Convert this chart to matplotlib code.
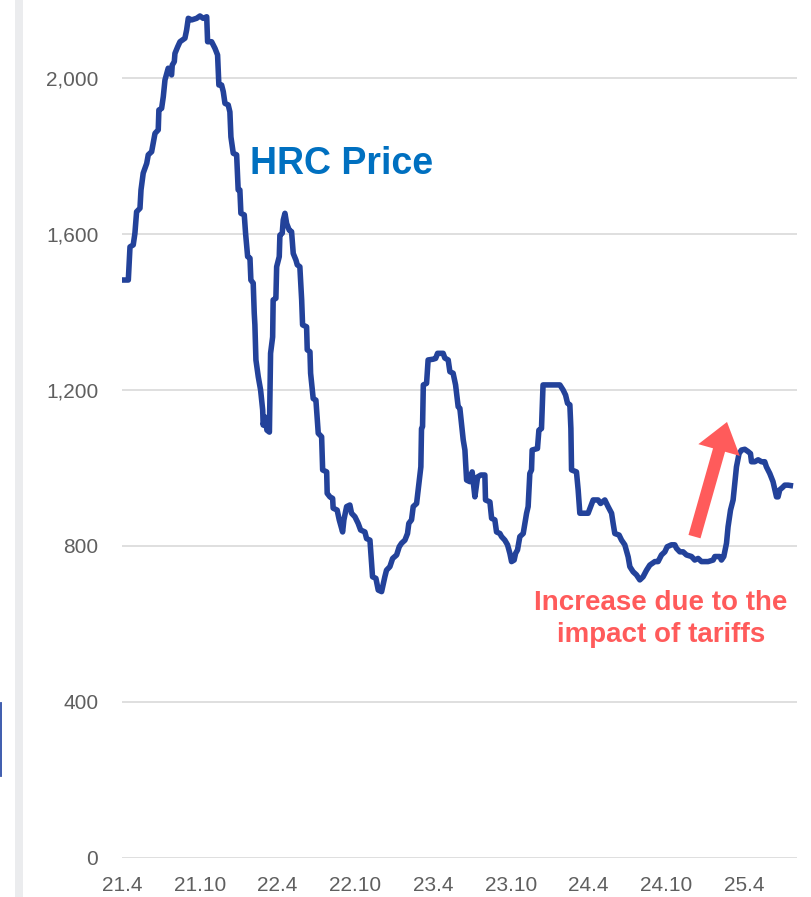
import numpy as np
import matplotlib.pyplot as plt
from matplotlib.patches import Rectangle
from matplotlib.lines import Line2D

plt.rcParams['font.family'] = ['Liberation Sans', 'DejaVu Sans']

# months elapsed since 2021-04 and HRC price
t_month = [0.00, 0.49, 0.62, 0.87, 1.00, 1.13, 1.39, 1.47, 1.64, 1.91, 2.03, 2.29,
           2.55, 2.80, 2.85, 3.06, 3.19, 3.32, 3.57, 3.83, 3.88, 4.04, 4.09, 4.30,
           4.48, 4.86, 4.99, 5.12, 5.38, 5.76, 6.02, 6.27, 6.54, 6.61, 6.92, 7.18,
           7.38, 7.48, 7.69, 7.82, 7.95, 8.20, 8.33, 8.41, 8.59, 8.85, 8.97, 9.10,
           9.18, 9.44, 9.54, 9.70, 9.88, 9.95, 10.13, 10.21, 10.26, 10.34, 10.52,
           10.70, 10.86, 10.90, 11.03, 11.19, 11.38, 11.47, 11.63, 11.67, 11.88,
           11.94, 12.14, 12.19, 12.37, 12.45, 12.58, 12.71, 12.91, 13.09, 13.22,
           13.43, 13.53, 13.73, 13.87, 13.94, 14.25, 14.30, 14.51, 14.56, 14.76,
           14.97, 15.15, 15.41, 15.49, 15.80, 15.84, 16.05, 16.26, 16.30, 16.61,
           16.77, 17.03, 17.13, 17.34, 17.59, 17.72, 17.98, 18.23, 18.42, 18.75,
           18.88, 19.14, 19.34, 19.60, 19.78, 20.04, 20.29, 20.42, 20.68, 20.89,
           21.20, 21.40, 21.58, 21.84, 22.04, 22.14, 22.35, 22.48, 22.74, 22.92,
           23.07, 23.12, 23.20, 23.26, 23.51, 23.63, 24.02, 24.21, 24.36, 24.79,
           24.92, 25.18, 25.31, 25.56, 25.75, 25.95, 26.08, 26.34, 26.47, 26.60,
           26.85, 27.03, 27.24, 27.45, 27.70, 28.01, 28.06, 28.40, 28.53, 28.78,
           28.91, 29.17, 29.30, 29.55, 29.76, 29.94, 30.07, 30.27, 30.38, 30.53,
           30.71, 30.97, 31.23, 31.35, 31.48, 31.61, 31.66, 32.07, 32.18, 32.38,
           32.50, 33.15, 33.80, 34.05, 34.24, 34.39, 34.57, 34.65, 34.70, 35.08,
           35.21, 35.34, 35.98, 36.37, 36.75, 36.94, 37.27, 37.52, 37.79, 37.91,
           38.04, 38.37, 38.56, 38.81, 39.07, 39.20, 39.45, 39.71, 39.97, 40.22,
           40.49, 40.74, 41.13, 41.38, 41.64, 41.90, 42.08, 42.41, 42.67, 42.80,
           43.06, 43.31, 43.57, 43.96, 44.21, 44.47, 44.73, 45.24, 45.63, 45.76,
           46.14, 46.27, 46.45, 46.66, 46.78, 46.97, 47.17, 47.30, 47.43, 47.63,
           47.82, 48.07, 48.33, 48.51, 48.59, 48.84, 49.10, 49.36, 49.61, 49.74,
           50.00, 50.25, 50.52, 50.64, 50.77, 50.98, 51.16, 51.41, 51.80]
hrc_price = [1482, 1482, 1567, 1572, 1602, 1657, 1666, 1713, 1756, 1781, 1803, 1811,
             1858, 1867, 1918, 1922, 1952, 1995, 2025, 2008, 2033, 2042, 2063, 2080,
             2093, 2102, 2123, 2153, 2149, 2153, 2159, 2153, 2157, 2093, 2093, 2076,
             2059, 1982, 1982, 1965, 1935, 1931, 1913, 1849, 1807, 1803, 1713, 1713,
             1653, 1649, 1602, 1542, 1538, 1482, 1474, 1397, 1367, 1277, 1234,
             1200, 1149, 1110, 1131, 1097, 1092, 1294, 1336, 1431, 1435,
             1516, 1542, 1597, 1602, 1636, 1653, 1627, 1610, 1606, 1550,
             1533, 1521, 1516, 1431, 1367, 1362, 1303, 1298, 1243, 1178,
             1174, 1089, 1080, 995, 990, 935, 926, 922, 897, 892,
             867, 836, 867, 901, 905, 884, 875, 858, 841, 836,
             819, 815, 721, 717, 687, 683, 721, 738, 747, 768,
             777, 798, 807, 815, 832, 858, 867, 901, 909, 961,
             1003, 1101, 1106, 1213, 1217, 1277, 1279, 1281, 1294, 1294,
             1282, 1277, 1247, 1243, 1213, 1157, 1153, 1072, 1046, 969,
             965, 990, 926, 977, 982, 982, 918, 913, 871, 867,
             836, 832, 824, 815, 803, 781, 760, 764, 781, 790,
             824, 832, 884, 901, 986, 995, 1046, 1050, 1097, 1101,
             1213, 1213, 1213, 1200, 1187, 1166, 1162, 1101, 995, 990,
             944, 884, 884, 918, 918, 909, 918, 901, 884, 858,
             832, 828, 815, 803, 772, 747, 734, 726, 713, 721,
             738, 751, 760, 760, 777, 785, 798, 803, 803, 794,
             785, 785, 777, 773, 764, 768, 760, 760, 764, 773,
             773, 764, 773, 807, 849, 892, 918, 961, 1003, 1037,
             1046, 1048, 1042, 1037, 1016, 1016, 1021, 1016, 1016, 1003,
             986, 965, 926, 926, 944, 950, 956, 956, 954]

tick_pos = [0, 6, 12, 18, 24, 30, 36, 42, 48]
tick_lab = ['21.4', '21.10', '22.4', '22.10', '23.4', '23.10', '24.4', '24.10', '25.4']
y_ticks = [0, 400, 800, 1200, 1600, 2000]

grey_txt = '#5F5F5F'
line_col = '#23429A'
red = '#FF5B5B'

fig = plt.figure(figsize=(8.12, 8.97), dpi=100, facecolor='w')
ax = fig.add_axes([0.1502, 0.0435, 0.8313, 0.9565])

ax.plot(t_month, hrc_price, color=line_col, lw=4.0, solid_joinstyle='round',
        solid_capstyle='butt', zorder=3)

ax.set_xlim(0, 52.1)
ax.set_ylim(0, 2200)
ax.set_yticks(y_ticks)
ax.set_yticklabels([f'{v:,}' for v in y_ticks])
ax.set_xticks(tick_pos)
ax.set_xticklabels(tick_lab)
ax.tick_params(axis='both', length=0, labelsize=15, colors=grey_txt)
ax.tick_params(axis='y', pad=17)
ax.tick_params(axis='x', pad=13)
ax.grid(axis='y', color='#D9D9D9', lw=1.2)
ax.set_axisbelow(True)
for s in ax.spines.values():
    s.set_visible(False)

ax.text(16.98, 1779, 'HRC Price', color='#0070C0', fontsize=27,
        fontweight='bold', ha='center', va='center')
ax.text(41.59, 614, 'Increase due to the\nimpact of tariffs', color=red,
        fontsize=20, fontweight='bold', ha='center', va='center',
        linespacing=1.3)
ax.annotate('', xy=(46.70, 1118), xytext=(44.19, 824),
            arrowprops=dict(arrowstyle='simple,head_width=1.55,head_length=1.05,tail_width=0.45',
                            color=red, lw=0, shrinkA=0, shrinkB=0,
                            mutation_scale=20))

# side strip and edge marker on the left
fig.add_artist(Rectangle((15 / 812, 0), 8 / 812, 1, transform=fig.transFigure,
                         facecolor='#EBECEE', edgecolor='none'))
fig.add_artist(Line2D([0.8 / 812, 0.8 / 812], [1 - 703 / 897, 1 - 776 / 897],
                      transform=fig.transFigure, color='#2F4FA8', lw=1.3))

fig.savefig('out.png', dpi=100, facecolor='w')
